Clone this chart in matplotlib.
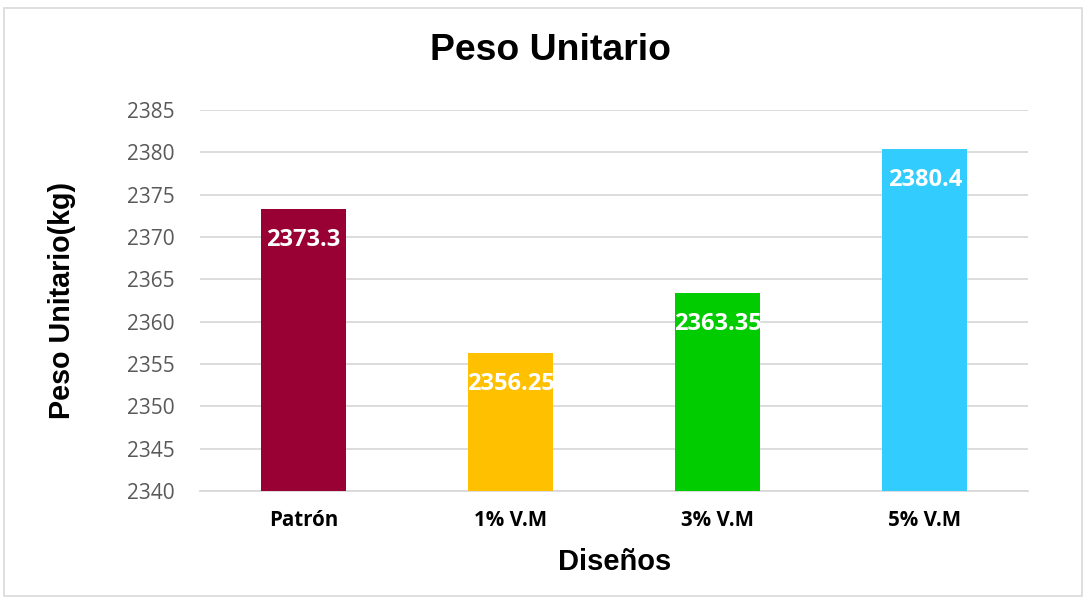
import matplotlib.pyplot as plt
from matplotlib.patches import Rectangle

# Data
categorias = ['Patrón', '1% V.M', '3% V.M', '5% V.M']
peso = [2373.3, 2356.25, 2363.35, 2380.4]
etiquetas = ['2373.3', '2356.25', '2363.35', '2380.4']
colores = ['#990033', '#FFC000', '#00CC00', '#33CCFF']
yticks = [2340, 2345, 2350, 2355, 2360, 2365, 2370, 2375, 2380, 2385]

fig = plt.figure(figsize=(10.86, 5.97), dpi=100)
ax = fig.add_axes([0.184, 0.1776, 0.763, 0.638])

# bars drawn from the 2340 baseline
x = range(len(categorias))
ax.bar(x, [p - 2340 for p in peso], bottom=2340, width=0.41, color=colores, zorder=3)

for xi, p, lab in zip(x, peso, etiquetas):
    ax.annotate(lab, (xi, p), xytext=(0, -22), textcoords='offset points',
                ha='center', va='center', color='white', fontsize=17,
                fontweight='bold', family='Open Sans', zorder=4)

ax.set_xlim(-0.5, 3.5)
ax.set_ylim(2340, 2385)
ax.set_yticks(yticks)
ax.set_xticks(list(x))
ax.set_xticklabels(categorias, fontsize=14.8, fontweight='bold', family='Open Sans')
for t in ax.get_yticklabels():
    t.set_family('Open Sans')
    t.set_fontsize(15)
    t.set_color('#595959')

ax.grid(axis='y', color='#d9d9d9', linewidth=1.3, zorder=0)
for s in ['top', 'right', 'left']:
    ax.spines[s].set_visible(False)
ax.spines['bottom'].set_color('#d9d9d9')
ax.spines['bottom'].set_linewidth(1.3)
ax.tick_params(axis='x', length=0, pad=14)
ax.tick_params(axis='y', length=0, pad=18)

fig.suptitle('Peso Unitario', x=0.507, y=0.916, va='center',
             fontsize=26.9, fontweight='bold', family='Liberation Sans')
ax.set_xlabel('Diseños', fontsize=21, fontweight='bold', family='Liberation Sans', va='center')
ax.set_ylabel('Peso Unitario(kg)', fontsize=20.6, fontweight='bold', family='Liberation Sans', va='center')
ax.xaxis.set_label_coords(0.5, -0.186)
ax.yaxis.set_label_coords(-0.1667, 0.5)

# chart border
fig.patches.append(Rectangle((0.004, 0.002), 0.992, 0.985, transform=fig.transFigure,
                             fill=False, edgecolor='#d9d9d9', linewidth=1.2))

fig.savefig('out.png', dpi=100)
